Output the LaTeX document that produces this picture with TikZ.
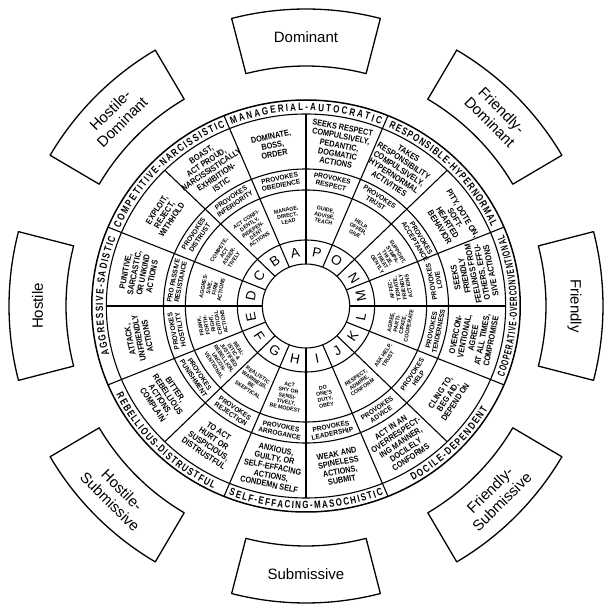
\documentclass[tikz,border=0pt]{standalone}
\usepackage{fontspec}
\setmainfont{Liberation Sans}
\newfontfamily\condf[FakeStretch=0.86]{Liberation Sans}
\newfontfamily\provf[FakeStretch=0.95]{Liberation Sans}
\newfontfamily\labf[FakeStretch=0.76]{Liberation Sans}
\newfontfamily\labn[FakeStretch=0.62]{Liberation Sans}
\usetikzlibrary{decorations.text}
% centre angle, rotation, letter, outer text, provokes text, inner text
\newcommand\wseg[6]{%
  \node[otxt,rotate=#2] (o#3) at (#1:164) {#4};
  \node[ptxt,rotate=#2] (p#3) at (#1:126.5) {#5};
  \node[itxt,rotate=#2] (i#3) at (#1:92) {#6};
  \node[ltr,rotate=#2] (l#3) at (#1:54) {#3};
}
% clockwise label (top/left): centre angle, half span, font, text
\newcommand\cwlab[4]{%
  \path[decorate,decoration={text along path,text align=fit to path,
    text={|#3\bfseries\fontsize{10.5}{10.5}\selectfont|#4}}]
    ({#1+#2}:195.2) arc[start angle={#1+#2},end angle={#1-#2},radius=195.2];
}
% counterclockwise label (bottom/right)
\newcommand\ccwlab[4]{%
  \path[decorate,decoration={text along path,text align=fit to path,
    text={|#3\bfseries\fontsize{10.5}{10.5}\selectfont|#4}}]
    ({#1-#2}:203) arc[start angle={#1-#2},end angle={#1+#2},radius=203];
}
\begin{document}
\begin{tikzpicture}[x=1pt,y=1pt,line join=round,
  wl/.style={line width=1.1pt},
  outerl/.style={line width=1.5pt},
  boxline/.style={line width=1.3pt},
  otxt/.style={font=\condf\bfseries\fontsize{8.5}{9}\selectfont,align=center,inner sep=0pt},
  ptxt/.style={font=\provf\bfseries\fontsize{6.9}{7.3}\selectfont,align=center,inner sep=0pt},
  itxt/.style={font=\provf\bfseries\fontsize{5.5}{6}\selectfont,align=center,inner sep=0pt},
  ltr/.style={font=\fontsize{13.5}{13.5}\selectfont,inner sep=0pt},
  boxtxt/.style={font=\fontsize{15}{17}\selectfont,align=center,inner sep=0pt}]
\useasboundingbox (-306,-309) rectangle (310,306);
\begin{scope}[xscale=1.04]
  \foreach \r in {192,137,116,66,42} \draw[wl] (0,0) circle[radius=\r];
  \draw[outerl] (0,0) circle[radius=206];
  \foreach \k in {0,...,15} \draw[wl] ({\k*22.5}:42) -- ({\k*22.5}:192);
  \foreach \k in {0,...,7} \draw[wl] ({22.5+45*\k}:192) -- ({22.5+45*\k}:206);
  \cwlab{90}{21.5}{\labf}{MANAGERIAL-AUTOCRATIC}
  \cwlab{45}{21}{\labf}{RESPONSIBLE-HYPERNORMAL}
  \cwlab{135}{21.5}{\labf}{COMPETITIVE-NARCISSISTIC}
  \cwlab{177}{17.5}{\labf}{AGGRESSIVE-SADISTIC}
  \ccwlab{0}{20.5}{\labn}{COOPERATIVE-OVERCONVENTIONAL}
  \ccwlab{-45}{14.5}{\labf}{DOCILE-DEPENDENT}
  \ccwlab{-90}{21.5}{\labf}{SELF-EFFACING-MASOCHISTIC}
  \ccwlab{-135}{19}{\labf}{REBELLIOUS-DISTRUSTFUL}
  \wseg{101.25}{11.25}{A}{DOMINATE,\\BOSS,\\ORDER}{PROVOKES\\OBEDIENCE}{MANAGE,\\DIRECT,\\LEAD}
  \wseg{78.75}{-11.25}{P}{SEEKS RESPECT\\COMPULSIVELY,\\PEDANTIC,\\DOGMATIC\\ACTIONS}{PROVOKES\\RESPECT}{GUIDE,\\ADVISE,\\TEACH}
  \wseg{57}{-33}{O}{TAKES\\RESPONSIBILITY\\COMPULSIVELY,\\HYPERNORMAL\\ACTIVITIES}{PROVOKES\\TRUST}{HELP,\\OFFER,\\GIVE}
  \wseg{31.5}{-58.5}{N}{PITY, DOTE ON,\\SOFT-\\HEARTED\\BEHAVIOR}{PROVOKES\\ACCEPTANCE}{SUPPORT,\\SYMPA-\\THIZE,\\TREAT\\GENTLY}
  \wseg{11.25}{101.25}{M}{SEEKS\\FRIENDLY\\FEELINGS FROM\\OTHERS, EFFU-\\SIVE ACTIONS}{PROVOKES\\LOVE}{AFFEC-\\TIONATE,\\FRIENDLY\\ACTIONS}
  \wseg{-11.25}{78.75}{L}{OVERCON-\\VENTIONAL,\\AGREE\\AT ALL TIMES,\\COMPROMISE}{PROVOKES\\TENDERNESS}{AGREE,\\PARTI-\\CIPATE,\\COOPERATE}
  \wseg{-33.75}{56.25}{K}{CLING TO,\\BEG AID,\\DEPEND ON}{PROVOKES\\HELP}{ASK HELP,\\TRUST}
  \wseg{-56.25}{33.75}{J}{ACT IN AN\\OVERRESPECT-\\ING MANNER,\\DOCILELY\\CONFORMS}{PROVOKES\\ADVICE}{RESPECT,\\ADMIRE,\\CONFORM}
  \wseg{-78.75}{11.25}{I}{WEAK AND\\SPINELESS\\ACTIONS,\\SUBMIT}{PROVOKES\\LEADERSHIP}{DO\\ONE'S\\DUTY,\\OBEY}
  \wseg{-101.25}{-11.25}{H}{ANXIOUS,\\GUILTY, OR\\SELF-EFFACING\\ACTIONS,\\CONDEMN SELF}{PROVOKES\\ARROGANCE}{ACT\\SHY OR\\SENSI-\\TIVELY,\\BE MODEST}
  \wseg{-123.75}{-33.75}{G}{TO ACT\\HURT OR\\SUSPICIOUS,\\DISTRUSTFUL}{PROVOKES\\REJECTION}{REALISTIC\\WARINESS,\\BE\\SKEPTICAL}
  \wseg{-146.25}{-56.25}{F}{BITTER,\\REBELLIOUS\\ACTIONS,\\COMPLAIN}{PROVOKES\\PUNISHMENT}{REAL-\\ISTIC \&\\JUSTIFIED\\REBELLION,\\UNCON-\\VENTIONAL}
  \wseg{191.25}{101.25}{E}{ATTACK,\\UNFRIENDLY\\ACTIONS}{PROVOKES\\HOSTILITY}{FRANK,\\FORTH-\\RIGHT,\\CRITICAL\\ACTIONS}
  \wseg{168.75}{78.75}{D}{PUNITIVE,\\SARCASTIC,\\OR UNKIND\\ACTIONS}{PRO PASSIVE\\RESISTANCE}{AGGRES-\\SIVE,\\FIRM\\ACTIONS}
  \wseg{146.25}{56.25}{C}{EXPLOIT,\\REJECT,\\WITHHOLD}{PROVOKES\\DISTRUST}{COMPETE,\\ACT\\ASSER-\\TIVELY}
  \wseg{123.75}{33.75}{B}{BOAST,\\ACT PROUD,\\NARCISSISTICALLY\\EXHIBITION-\\ISTIC}{PROVOKES\\INFERIORITY}{ACT CONFI-\\DENTLY,\\INDEPEN-\\DENT\\ACTIONS}
\end{scope}
\foreach \a/\t/\r/\n in {90/Dominant/0/bD, 45/{Friendly-\\Dominant}/-45/bFD,
    0/Friendly/-90/bF, -45/{Friendly-\\Submissive}/45/bFS, -90/Submissive/0/bS,
    -135/{Hostile-\\Submissive}/-45/bHS, 180/Hostile/90/bH, 135/{Hostile-\\Dominant}/45/bHD}{
  \pgfmathsetmacro\aa{\a-14.5}
  \pgfmathsetmacro\ab{\a+14.5}
  \draw[boxline] (\aa:240) arc[start angle=\aa,end angle=\ab,radius=240]
     -- (\ab:297) arc[start angle=\ab,end angle=\aa,radius=297] -- cycle;
  \node[boxtxt,rotate=\r] (\n) at (\a:268.5) {\t};
}
\end{tikzpicture}
\end{document}
